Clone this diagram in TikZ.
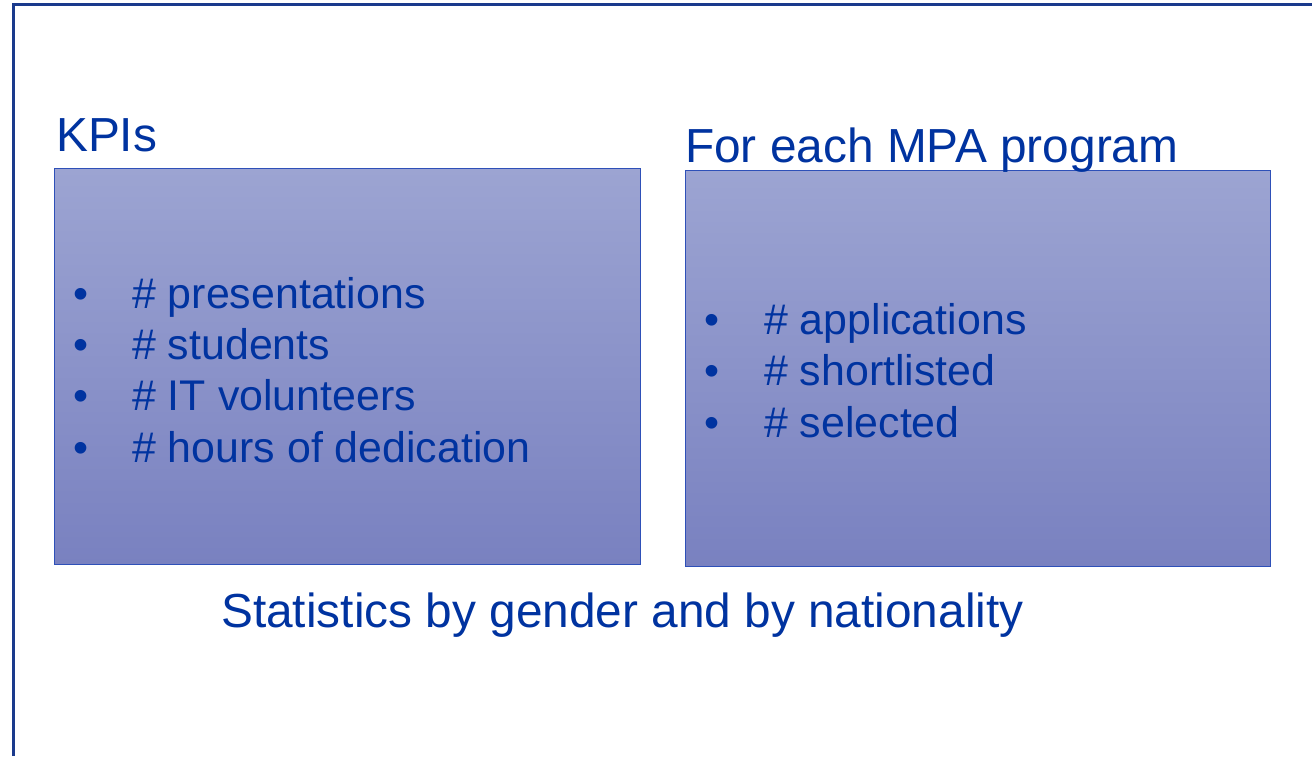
\documentclass[tikz,border=0pt]{standalone}
\usepackage{fontspec}
\setmainfont{Liberation Sans}
\definecolor{navy}{RGB}{0,51,160}
\definecolor{framecol}{RGB}{26,58,140}
\definecolor{boxline}{RGB}{46,80,184}
\definecolor{boxtop}{RGB}{156,164,210}
\definecolor{boxbot}{RGB}{121,129,192}
\tikzset{
  panel/.style={draw=boxline, line width=1pt, top color=boxtop, bottom color=boxbot,
    anchor=south west, inner sep=0pt},
  heading/.style={anchor=base west, inner sep=0pt, text=navy, font=\fontsize{47.8}{57}\selectfont},
  item/.style={anchor=base west, inner sep=0pt, text=navy, font=\fontsize{42.9}{51}\selectfont},
  dot/.style={anchor=base, inner sep=0pt, text=navy, font=\fontsize{42.9}{51}\selectfont}
}
\begin{document}
\begin{tikzpicture}[x=1pt,y=1pt]
        \useasboundingbox (0,0) rectangle (1312,756);
        \fill[white] (0,0) rectangle (1312,756);
        \draw[framecol, line width=3pt] (13,0) -- (13,751) -- (1312,751);

        \node[panel, minimum width=586pt, minimum height=396pt] (kpibox) at (54,191) {};
        \node[panel, minimum width=585pt, minimum height=396pt] (mpabox) at (685,189) {};

        \node[heading] (kpititle) at (56,604) {KPIs};
        \node[heading] (mpatitle) at (685,593) {For each MPA program};

        \foreach \txt [count=\i] in {presentations, students, IT volunteers, hours of dedication}{
          \node[dot] (kpidot\i) at (81, {498-51*\i}) {\textbullet};
          \node[item] (kpiitem\i) at (132, {498-51*\i}) {\# \txt};
        }
        \foreach \txt [count=\i] in {applications, shortlisted, selected}{
          \node[dot] (mpadot\i) at (712, {472-51*\i}) {\textbullet};
          \node[item] (mpaitem\i) at (764, {472-51*\i}) {\# \txt};
        }

        \node[heading] (stats) at (221,129) {Statistics by gender and by nationality};

      \end{tikzpicture}
\end{document}
